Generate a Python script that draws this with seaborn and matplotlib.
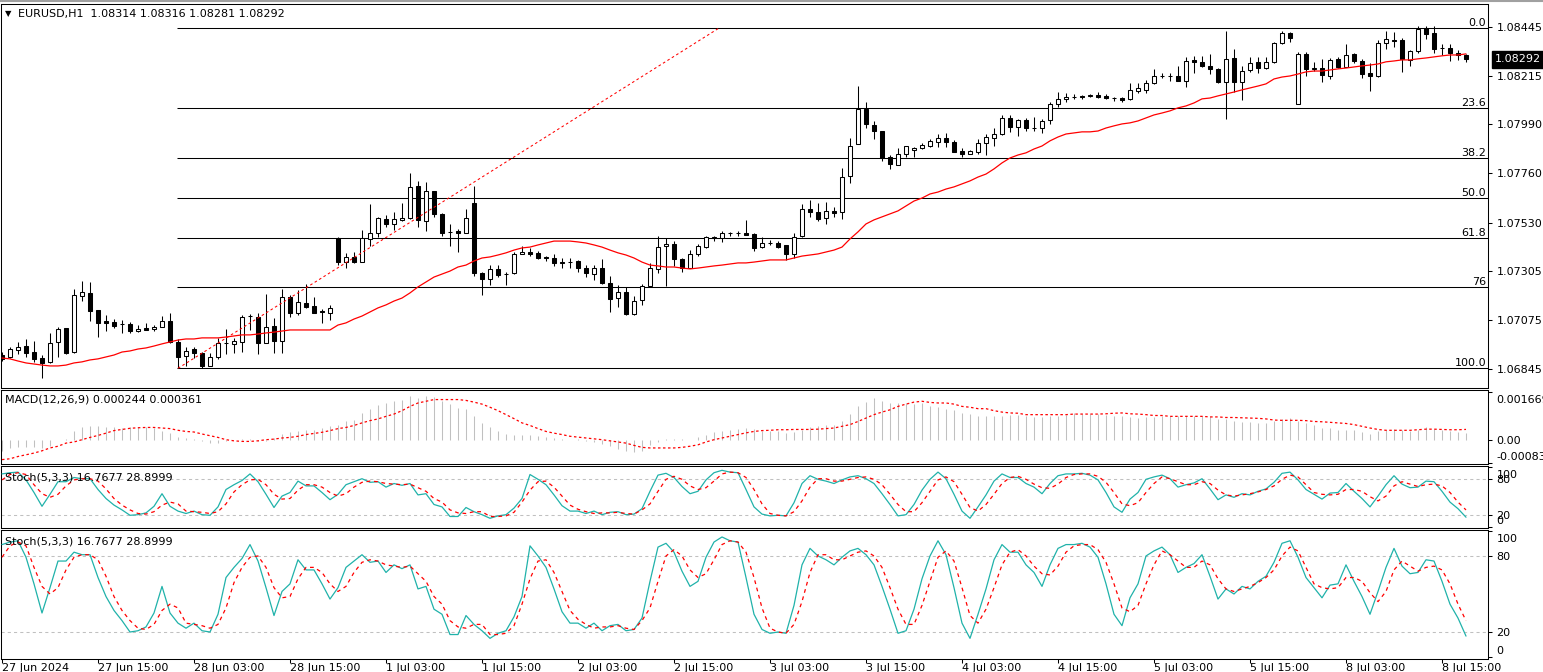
import numpy as np
import matplotlib
matplotlib.use("Agg")
import matplotlib.pyplot as plt
import seaborn as sns
from matplotlib.transforms import ScaledTranslation, blended_transform_factory
from matplotlib.lines import Line2D

# ---------------- data (EURUSD H1) ----------------
open_ = [1.06912, 1.06903, 1.06936, 1.06954, 1.06926, 1.06898, 1.06880, 1.06973, 1.07038, 1.06926,
         1.07188, 1.07202, 1.07122, 1.07071, 1.07066, 1.07058, 1.07057, 1.07024, 1.07038, 1.07034,
         1.07043, 1.07071, 1.06973, 1.06908, 1.06940, 1.06922, 1.06861, 1.06903, 1.06966, 1.06964,
         1.06973, 1.07092, 1.07090, 1.06968, 1.07048, 1.06978, 1.07183, 1.07108, 1.07155, 1.07141,
         1.07118, 1.07108, 1.07459, 1.07346, 1.07370, 1.07346, 1.07454, 1.07482, 1.07547, 1.07524,
         1.07543, 1.07552, 1.07701, 1.07538, 1.07678, 1.07571, 1.07486, 1.07491, 1.07482, 1.07622,
         1.07295, 1.07267, 1.07314, 1.07292, 1.07295, 1.07384, 1.07393, 1.07389, 1.07368, 1.07365,
         1.07344, 1.07344, 1.07351, 1.07318, 1.07290, 1.07318, 1.07248, 1.07178, 1.07206, 1.07104,
         1.07169, 1.07234, 1.07314, 1.07421, 1.07430, 1.07360, 1.07318, 1.07384, 1.07416, 1.07458,
         1.07459, 1.07482, 1.07484, 1.07484, 1.07477, 1.07416, 1.07435, 1.07435, 1.07426, 1.07384,
         1.07468, 1.07594, 1.07580, 1.07552, 1.07585, 1.07580, 1.07748, 1.07898, 1.08061, 1.07986,
         1.07958, 1.07837, 1.07799, 1.07851, 1.07870, 1.07879, 1.07888, 1.07907, 1.07926, 1.07907,
         1.07865, 1.07851, 1.07860, 1.07902, 1.07926, 1.07944, 1.08019, 1.07977, 1.08010, 1.07970,
         1.07972, 1.08010, 1.08084, 1.08108, 1.08115, 1.08122, 1.08120, 1.08126, 1.08122, 1.08110,
         1.08112, 1.08108, 1.08145, 1.08150, 1.08182, 1.08213, 1.08215, 1.08215, 1.08192, 1.08290,
         1.08281, 1.08262, 1.08248, 1.08187, 1.08299, 1.08187, 1.08243, 1.08281, 1.08252, 1.08281,
         1.08369, 1.08416, 1.08084, 1.08318, 1.08248, 1.08252, 1.08215, 1.08295, 1.08257, 1.08318,
         1.08285, 1.08229, 1.08215, 1.08369, 1.08381, 1.08383, 1.08290, 1.08332, 1.08439, 1.08416,
         1.08344, 1.08346, 1.08321, 1.08314]
high = [1.06926, 1.06950, 1.06973, 1.06987, 1.06978, 1.06912, 1.07015, 1.07043, 1.07040, 1.07220,
        1.07258, 1.07253, 1.07124, 1.07099, 1.07080, 1.07076, 1.07066, 1.07052, 1.07062, 1.07052,
        1.07094, 1.07108, 1.06987, 1.06950, 1.06950, 1.06924, 1.06922, 1.06992, 1.07034, 1.06992,
        1.07099, 1.07104, 1.07108, 1.07197, 1.07085, 1.07220, 1.07192, 1.07216, 1.07244, 1.07183,
        1.07127, 1.07146, 1.07462, 1.07389, 1.07393, 1.07496, 1.07617, 1.07555, 1.07566, 1.07580,
        1.07622, 1.07762, 1.07725, 1.07720, 1.07680, 1.07573, 1.07524, 1.07501, 1.07594, 1.07701,
        1.07300, 1.07332, 1.07332, 1.07300, 1.07393, 1.07421, 1.07412, 1.07398, 1.07374, 1.07384,
        1.07365, 1.07365, 1.07356, 1.07332, 1.07332, 1.07360, 1.07281, 1.07239, 1.07230, 1.07188,
        1.07244, 1.07341, 1.07468, 1.07459, 1.07444, 1.07365, 1.07402, 1.07430, 1.07468, 1.07468,
        1.07491, 1.07487, 1.07489, 1.07543, 1.07480, 1.07464, 1.07449, 1.07444, 1.07428, 1.07482,
        1.07617, 1.07636, 1.07622, 1.07627, 1.07603, 1.07785, 1.07926, 1.08168, 1.08094, 1.08005,
        1.07960, 1.07846, 1.07879, 1.07890, 1.07884, 1.07902, 1.07921, 1.07944, 1.07949, 1.07916,
        1.07879, 1.07870, 1.07921, 1.07944, 1.07972, 1.08033, 1.08033, 1.08014, 1.08019, 1.08023,
        1.08014, 1.08094, 1.08140, 1.08136, 1.08131, 1.08126, 1.08131, 1.08140, 1.08131, 1.08117,
        1.08117, 1.08182, 1.08182, 1.08196, 1.08248, 1.08229, 1.08229, 1.08262, 1.08304, 1.08309,
        1.08309, 1.08318, 1.08252, 1.08425, 1.08341, 1.08262, 1.08304, 1.08304, 1.08304, 1.08374,
        1.08425, 1.08418, 1.08327, 1.08327, 1.08281, 1.08295, 1.08299, 1.08304, 1.08365, 1.08323,
        1.08295, 1.08276, 1.08383, 1.08425, 1.08421, 1.08393, 1.08337, 1.08449, 1.08449, 1.08449,
        1.08365, 1.08365, 1.08337, 1.08316]
low = [1.06884, 1.06898, 1.06917, 1.06903, 1.06880, 1.06805, 1.06875, 1.06903, 1.06918, 1.06922,
       1.07164, 1.07071, 1.06996, 1.07024, 1.07038, 1.07015, 1.07015, 1.07019, 1.07027, 1.07024,
       1.07041, 1.06968, 1.06850, 1.06861, 1.06898, 1.06852, 1.06859, 1.06894, 1.06917, 1.06922,
       1.06926, 1.07029, 1.06917, 1.06966, 1.06922, 1.06922, 1.07090, 1.07099, 1.07132, 1.07106,
       1.07062, 1.07076, 1.07332, 1.07318, 1.07341, 1.07344, 1.07421, 1.07464, 1.07510, 1.07496,
       1.07538, 1.07547, 1.07510, 1.07491, 1.07557, 1.07468, 1.07421, 1.07393, 1.07480, 1.07281,
       1.07192, 1.07239, 1.07276, 1.07239, 1.07290, 1.07382, 1.07374, 1.07360, 1.07351, 1.07328,
       1.07318, 1.07318, 1.07300, 1.07276, 1.07262, 1.07244, 1.07113, 1.07136, 1.07099, 1.07099,
       1.07146, 1.07232, 1.07295, 1.07234, 1.07328, 1.07300, 1.07316, 1.07374, 1.07412, 1.07444,
       1.07440, 1.07468, 1.07468, 1.07471, 1.07398, 1.07414, 1.07426, 1.07412, 1.07356, 1.07365,
       1.07464, 1.07557, 1.07538, 1.07524, 1.07557, 1.07547, 1.07715, 1.07895, 1.07972, 1.07921,
       1.07818, 1.07781, 1.07797, 1.07837, 1.07837, 1.07874, 1.07884, 1.07884, 1.07884, 1.07858,
       1.07837, 1.07849, 1.07851, 1.07846, 1.07888, 1.07940, 1.07954, 1.07935, 1.07958, 1.07958,
       1.07949, 1.07991, 1.08070, 1.08094, 1.08108, 1.08108, 1.08118, 1.08112, 1.08108, 1.08098,
       1.08094, 1.08103, 1.08136, 1.08136, 1.08178, 1.08206, 1.08192, 1.08190, 1.08164, 1.08229,
       1.08257, 1.08224, 1.08182, 1.08014, 1.08140, 1.08103, 1.08234, 1.08229, 1.08248, 1.08276,
       1.08365, 1.08374, 1.08082, 1.08215, 1.08238, 1.08187, 1.08201, 1.08252, 1.08255, 1.08276,
       1.08206, 1.08145, 1.08210, 1.08341, 1.08351, 1.08234, 1.08262, 1.08323, 1.08388, 1.08323,
       1.08313, 1.08285, 1.08290, 1.08281]
close = [1.06894, 1.06940, 1.06950, 1.06922, 1.06894, 1.06875, 1.06968, 1.07034, 1.06922, 1.07192,
         1.07206, 1.07118, 1.07062, 1.07062, 1.07048, 1.07056, 1.07024, 1.07034, 1.07029, 1.07043,
         1.07071, 1.06973, 1.06903, 1.06931, 1.06922, 1.06861, 1.06903, 1.06968, 1.06968, 1.06978,
         1.07090, 1.07094, 1.06968, 1.07043, 1.06978, 1.07183, 1.07108, 1.07160, 1.07136, 1.07108,
         1.07113, 1.07132, 1.07346, 1.07370, 1.07346, 1.07459, 1.07482, 1.07552, 1.07524, 1.07547,
         1.07552, 1.07697, 1.07543, 1.07678, 1.07571, 1.07482, 1.07488, 1.07482, 1.07552, 1.07295,
         1.07267, 1.07314, 1.07286, 1.07290, 1.07384, 1.07393, 1.07384, 1.07365, 1.07365, 1.07341,
         1.07341, 1.07346, 1.07318, 1.07295, 1.07318, 1.07248, 1.07174, 1.07206, 1.07104, 1.07164,
         1.07234, 1.07318, 1.07416, 1.07430, 1.07360, 1.07318, 1.07384, 1.07421, 1.07464, 1.07461,
         1.07482, 1.07484, 1.07482, 1.07473, 1.07412, 1.07435, 1.07437, 1.07416, 1.07384, 1.07464,
         1.07594, 1.07580, 1.07547, 1.07585, 1.07576, 1.07743, 1.07888, 1.08061, 1.07991, 1.07958,
         1.07832, 1.07804, 1.07851, 1.07888, 1.07879, 1.07893, 1.07912, 1.07926, 1.07907, 1.07860,
         1.07851, 1.07865, 1.07902, 1.07930, 1.07944, 1.08019, 1.07977, 1.08010, 1.07972, 1.07972,
         1.08005, 1.08084, 1.08108, 1.08117, 1.08117, 1.08117, 1.08126, 1.08117, 1.08112, 1.08112,
         1.08103, 1.08150, 1.08159, 1.08182, 1.08215, 1.08215, 1.08213, 1.08192, 1.08285, 1.08281,
         1.08262, 1.08248, 1.08187, 1.08295, 1.08187, 1.08238, 1.08276, 1.08252, 1.08281, 1.08369,
         1.08416, 1.08393, 1.08318, 1.08248, 1.08252, 1.08220, 1.08290, 1.08257, 1.08313, 1.08285,
         1.08224, 1.08215, 1.08369, 1.08388, 1.08379, 1.08295, 1.08332, 1.08435, 1.08411, 1.08341,
         1.08346, 1.08323, 1.08314, 1.08292]
ma_line = [1.06898, 1.06894, 1.06884, 1.06875, 1.06870, 1.06865, 1.06861, 1.06861, 1.06865, 1.06875,
           1.06880, 1.06889, 1.06894, 1.06903, 1.06912, 1.06926, 1.06931, 1.06940, 1.06945, 1.06954,
           1.06964, 1.06973, 1.06982, 1.06987, 1.06987, 1.06992, 1.06992, 1.06992, 1.06996, 1.07001,
           1.07006, 1.07006, 1.07010, 1.07015, 1.07019, 1.07024, 1.07029, 1.07029, 1.07029, 1.07029,
           1.07029, 1.07029, 1.07052, 1.07062, 1.07080, 1.07094, 1.07113, 1.07132, 1.07146, 1.07164,
           1.07178, 1.07202, 1.07230, 1.07253, 1.07276, 1.07290, 1.07304, 1.07323, 1.07332, 1.07351,
           1.07365, 1.07370, 1.07379, 1.07389, 1.07402, 1.07412, 1.07416, 1.07426, 1.07435, 1.07444,
           1.07444, 1.07444, 1.07440, 1.07435, 1.07426, 1.07416, 1.07402, 1.07389, 1.07379, 1.07365,
           1.07346, 1.07332, 1.07328, 1.07323, 1.07323, 1.07318, 1.07314, 1.07318, 1.07323, 1.07328,
           1.07332, 1.07337, 1.07342, 1.07342, 1.07346, 1.07351, 1.07356, 1.07356, 1.07356, 1.07365,
           1.07374, 1.07379, 1.07384, 1.07393, 1.07402, 1.07416, 1.07454, 1.07487, 1.07524, 1.07543,
           1.07557, 1.07571, 1.07585, 1.07608, 1.07631, 1.07645, 1.07664, 1.07673, 1.07687, 1.07697,
           1.07711, 1.07725, 1.07743, 1.07757, 1.07781, 1.07809, 1.07832, 1.07846, 1.07856, 1.07874,
           1.07888, 1.07912, 1.07930, 1.07944, 1.07949, 1.07954, 1.07954, 1.07958, 1.07972, 1.07982,
           1.07991, 1.07996, 1.08005, 1.08019, 1.08033, 1.08042, 1.08052, 1.08066, 1.08075, 1.08089,
           1.08108, 1.08112, 1.08122, 1.08131, 1.08140, 1.08150, 1.08159, 1.08168, 1.08178, 1.08201,
           1.08210, 1.08215, 1.08224, 1.08234, 1.08238, 1.08238, 1.08243, 1.08248, 1.08252, 1.08257,
           1.08262, 1.08266, 1.08271, 1.08281, 1.08285, 1.08290, 1.08290, 1.08295, 1.08299, 1.08304,
           1.08309, 1.08313, 1.08313, 1.08318]
macd_main = [-0.00041, -0.00028, -0.00026, -0.00025, -0.00026, -0.00028, -0.00023, -0.00002, 0.00002, 0.00029,
             0.00043, 0.00047, 0.00047, 0.00043, 0.00043, 0.00041, 0.00043, 0.00043, 0.00043, 0.00041,
             0.00032, 0.00023, 0.00008, 0.00006, 0.00003, -0.00005, -0.00010, -0.00012, -0.00006, -0.00002,
             0.00002, 0.00003, -0.00003, -0.00005, 0.00005, 0.00020, 0.00027, 0.00032, 0.00035, 0.00035,
             0.00041, 0.00047, 0.00053, 0.00067, 0.00070, 0.00094, 0.00108, 0.00123, 0.00129, 0.00135,
             0.00139, 0.00152, 0.00146, 0.00152, 0.00149, 0.00137, 0.00125, 0.00111, 0.00108, 0.00082,
             0.00059, 0.00043, 0.00032, 0.00020, 0.00017, 0.00017, 0.00017, 0.00014, 0.00008, 0.00006,
             0.00002, 0.00000, 0.00003, -0.00003, -0.00008, -0.00014, -0.00023, -0.00033, -0.00041, -0.00044,
             -0.00039, -0.00020, -0.00008, 0.00003, 0.00002, 0.00002, 0.00000, 0.00009, 0.00017, 0.00026,
             0.00032, 0.00035, 0.00039, 0.00041, 0.00037, 0.00032, 0.00032, 0.00029, 0.00023, 0.00027,
             0.00035, 0.00043, 0.00047, 0.00050, 0.00053, 0.00067, 0.00090, 0.00120, 0.00133, 0.00145,
             0.00137, 0.00129, 0.00129, 0.00129, 0.00125, 0.00129, 0.00117, 0.00115, 0.00109, 0.00103,
             0.00094, 0.00090, 0.00085, 0.00082, 0.00082, 0.00085, 0.00088, 0.00088, 0.00082, 0.00078,
             0.00078, 0.00082, 0.00085, 0.00088, 0.00094, 0.00090, 0.00090, 0.00090, 0.00088, 0.00082,
             0.00082, 0.00078, 0.00076, 0.00080, 0.00080, 0.00084, 0.00082, 0.00082, 0.00082, 0.00082,
             0.00082, 0.00082, 0.00073, 0.00073, 0.00067, 0.00062, 0.00062, 0.00059, 0.00059, 0.00067,
             0.00073, 0.00076, 0.00067, 0.00059, 0.00050, 0.00041, 0.00041, 0.00035, 0.00035, 0.00035,
             0.00027, 0.00020, 0.00029, 0.00035, 0.00039, 0.00033, 0.00032, 0.00035, 0.00043, 0.00039,
             0.00035, 0.00032, 0.00027, 0.000244]
macd_signal = [-0.00070, -0.00067, -0.00059, -0.00053, -0.00047, -0.00039, -0.00029, -0.00023, -0.00012, -0.00008,
               0.00000, 0.00008, 0.00015, 0.00023, 0.00032, 0.00036, 0.00040, 0.00042, 0.00043, 0.00043,
               0.00041, 0.00039, 0.00033, 0.00029, 0.00027, 0.00020, 0.00014, 0.00008, 0.00000, -0.00004,
               -0.00006, -0.00006, -0.00004, 0.00000, 0.00002, 0.00006, 0.00008, 0.00012, 0.00018, 0.00022,
               0.00026, 0.00032, 0.00039, 0.00043, 0.00050, 0.00059, 0.00067, 0.00073, 0.00082, 0.00090,
               0.00102, 0.00117, 0.00129, 0.00135, 0.00141, 0.00141, 0.00141, 0.00141, 0.00138, 0.00132,
               0.00125, 0.00114, 0.00102, 0.00088, 0.00074, 0.00059, 0.00050, 0.00039, 0.00029, 0.00023,
               0.00018, 0.00012, 0.00009, 0.00006, 0.00003, 0.00000, -0.00004, -0.00008, -0.00012, -0.00020,
               -0.00027, -0.00029, -0.00029, -0.00029, -0.00029, -0.00027, -0.00023, -0.00018, -0.00008, 0.00000,
               0.00006, 0.00012, 0.00018, 0.00024, 0.00029, 0.00032, 0.00033, 0.00035, 0.00035, 0.00036,
               0.00036, 0.00036, 0.00037, 0.00039, 0.00041, 0.00047, 0.00053, 0.00064, 0.00076, 0.00088,
               0.00097, 0.00105, 0.00117, 0.00125, 0.00132, 0.00135, 0.00131, 0.00129, 0.00129, 0.00125,
               0.00117, 0.00114, 0.00109, 0.00109, 0.00102, 0.00097, 0.00094, 0.00093, 0.00088, 0.00088,
               0.00088, 0.00088, 0.00088, 0.00088, 0.00090, 0.00090, 0.00090, 0.00090, 0.00091, 0.00093,
               0.00094, 0.00091, 0.00090, 0.00088, 0.00085, 0.00085, 0.00082, 0.00082, 0.00082, 0.00082,
               0.00082, 0.00080, 0.00080, 0.00078, 0.00078, 0.00077, 0.00076, 0.00075, 0.00073, 0.00069,
               0.00068, 0.00068, 0.00068, 0.00067, 0.00064, 0.00063, 0.00061, 0.00059, 0.00057, 0.00053,
               0.00047, 0.00041, 0.00036, 0.00033, 0.00033, 0.00033, 0.00033, 0.00035, 0.00037, 0.00037,
               0.00036, 0.00035, 0.00035, 0.000361]
stoch_k = [89, 91, 92, 79, 58, 35, 55, 76, 76, 83,
           81, 81, 63, 48, 37, 29, 20, 21, 24, 35,
           56, 35, 27, 23, 27, 21, 20, 34, 63, 71,
           78, 89, 76, 55, 33, 52, 58, 77, 69, 69,
           58, 46, 55, 71, 76, 81, 75, 76, 67, 73,
           70, 73, 54, 56, 38, 34, 18, 18, 33, 26,
           21, 15, 19, 21, 32, 48, 88, 80, 71, 54,
           36, 27, 27, 23, 27, 21, 25, 26, 21, 22,
           31, 60, 87, 90, 83, 68, 56, 60, 79, 91,
           95, 92, 91, 63, 34, 22, 19, 20, 19, 41,
           73, 86, 80, 77, 73, 79, 84, 86, 81, 73,
           56, 38, 19, 21, 38, 62, 80, 92, 81, 55,
           27, 15, 34, 54, 77, 89, 83, 83, 73, 67,
           56, 73, 86, 89, 89, 90, 87, 79, 58, 34,
           25, 47, 58, 80, 84, 87, 81, 67, 71, 74,
           81, 64, 46, 54, 50, 56, 54, 60, 64, 75,
           90, 92, 79, 63, 55, 47, 57, 58, 73, 60,
           48, 34, 52, 71, 86, 72, 66, 67, 77, 76,
           60, 42, 31, 16.7677]
stoch_d = [79, 88, 91, 88, 71, 56, 50, 55, 69, 79,
           81, 81, 77, 64, 48, 37, 29, 23, 22, 26,
           37, 42, 39, 27, 26, 25, 23, 26, 39, 59,
           71, 79, 80, 71, 55, 47, 48, 62, 71, 71,
           67, 58, 52, 56, 67, 75, 77, 76, 73, 72,
           71, 72, 66, 60, 48, 42, 29, 24, 23, 26,
           26, 18, 18, 19, 25, 42, 62, 76, 77, 67,
           52, 37, 30, 26, 23, 24, 24, 25, 23, 22,
           29, 39, 60, 80, 85, 80, 69, 63, 66, 77,
           89, 92, 91, 83, 63, 39, 23, 20, 19, 26,
           44, 67, 81, 81, 77, 77, 80, 83, 84, 80,
           71, 55, 38, 26, 26, 41, 60, 79, 84, 76,
           55, 33, 27, 38, 55, 73, 83, 85, 80, 72,
           66, 65, 72, 83, 88, 89, 89, 85, 75, 58,
           39, 36, 41, 58, 73, 84, 81, 76, 71, 71,
           76, 73, 62, 54, 52, 54, 56, 59, 63, 69,
           80, 87, 84, 71, 58, 55, 54, 55, 63, 63,
           60, 51, 44, 52, 69, 76, 72, 68, 71, 72,
           69, 58, 42, 28.8999]

time_labels = ["27 Jun 2024", "27 Jun 15:00", "28 Jun 03:00", "28 Jun 15:00", "1 Jul 03:00",
               "1 Jul 15:00", "2 Jul 03:00", "2 Jul 15:00", "3 Jul 03:00", "3 Jul 15:00",
               "4 Jul 03:00", "4 Jul 15:00", "5 Jul 03:00", "5 Jul 15:00", "8 Jul 03:00",
               "8 Jul 15:00"]
time_label_bars = [0, 12, 24, 36, 48, 60, 72, 84, 96, 108, 120, 132, 144, 156, 168, 180]
price_ticks = [1.08445, 1.08215, 1.07990, 1.07760, 1.07530, 1.07305, 1.07075, 1.06845]
macd_ticks = [0.001669, 0.0, -0.00083]
macd_tick_labels = ["0.001669", "0.00", "-0.00083"]
stoch_ticks = [100, 80, 20, 0]
stoch_levels = [80, 20]
fib_levels = [0.0, 23.6, 38.2, 50.0, 61.8, 76.0, 100.0]
fib_labels = ["0.0", "23.6", "38.2", "50.0", "61.8", "76", "100.0"]
fib_high = 1.08438
fib_low = 1.06850
fib_start_bar = 22
trend_bars = [22, 89.6]
trend_prices = [1.06850, 1.08438]
symbol = "EURUSD,H1"

# ---------------- styling ----------------
sns.set_theme(style="white")
plt.rcParams['font.family'] = ['DejaVu Sans']
plt.rcParams['font.size'] = 8

W, H = 1543, 672
fig = plt.figure(figsize=(W / 100, H / 100), dpi=100)
fig.patch.set_facecolor('white')


def px_axes(x0, y0, x1, y1):
    return fig.add_axes([x0 / W, 1 - y1 / H, (x1 - x0) / W, (y1 - y0) / H])


ax_main = px_axes(1, 4, 1488, 388)
ax_macd = px_axes(1, 390, 1488, 464)
ax_st1 = px_axes(1, 466, 1488, 528)
ax_st2 = px_axes(1, 530, 1488, 659)
axes = [ax_main, ax_macd, ax_st1, ax_st2]

x = np.arange(len(close))
o = np.array(open_)
h = np.array(high)
l = np.array(low)
c = np.array(close)

LW = 0.75
# candles
ax_main.vlines(x, l, h, color='black', lw=LW, zorder=2)
bull = c >= o
bottom = np.minimum(o, c)
height = np.abs(c - o)
height = np.where(height < 2e-6, 2e-6, height)
ax_main.bar(x[bull], height[bull], bottom=bottom[bull], width=0.56, color='white',
            edgecolor='black', linewidth=LW, zorder=3)
ax_main.bar(x[~bull], height[~bull], bottom=bottom[~bull], width=0.56, color='black',
            edgecolor='black', linewidth=LW, zorder=3)
# moving average
sns.lineplot(x=x, y=np.array(ma_line), ax=ax_main, color='red', linewidth=0.9,
             estimator=None, errorbar=None, legend=False, zorder=4)
# fibo
fib_prices = fib_high - (fib_high - fib_low) * np.array(fib_levels) / 100.0
ax_main.hlines(fib_prices, fib_start_bar - 0.1, 185.75, color='black', lw=LW, zorder=1)
bt = blended_transform_factory(ax_main.transAxes, ax_main.transData)
for p, lab in zip(fib_prices, fib_labels):
    ax_main.text(1 - 2 / 1487, p, lab, transform=bt, ha='right', va='bottom',
                 fontsize=8, color='black', zorder=5)
ax_main.plot(trend_bars, trend_prices, color='red', lw=LW, ls=(0, (2.5, 2.5)), zorder=4)
ax_main.set_ylim(1.06758, 1.08551)
ax_main.set_yticks(price_ticks)
ax_main.set_yticklabels([f"{v:.5f}" for v in price_ticks])
# current price tag
ax_main.text(1.0, c[-1], f"{c[-1]:.5f}",
             transform=bt + ScaledTranslation(7 / 100, 0, fig.dpi_scale_trans),
             ha='left', va='center', color='white', fontsize=8, clip_on=False, zorder=10,
             bbox=dict(boxstyle='square,pad=0.3', fc='black', ec='black'))

# MACD
ax_macd.vlines(x, 0, np.array(macd_main), color='#C0C0C0', lw=LW, zorder=2)
sns.lineplot(x=x, y=np.array(macd_signal), ax=ax_macd, color='red', linewidth=0.9,
             linestyle=(0, (2, 2)), estimator=None, errorbar=None, legend=False, zorder=3)
ax_macd.set_ylim(-0.000854, 0.001746)
ax_macd.set_yticks(macd_ticks)
ax_macd.set_yticklabels(macd_tick_labels)
ax_macd.text(4 / 1487, 1 - 9 / 74, f"MACD(12,26,9) {macd_main[-1]:.6f} {macd_signal[-1]:.6f}",
             transform=ax_macd.transAxes, ha='left', va='center', fontsize=8, color='black')

# Stochastic panels
for ax, ylim, ty in [(ax_st1, (-1.2, 102.2), 1 - 11 / 62), (ax_st2, (-1.3, 100.5), 1 - 11 / 129)]:
    for lv in stoch_levels:
        ax.axhline(lv, color='#C0C0C0', lw=LW, ls=(0, (3, 3)), zorder=1)
    sns.lineplot(x=x, y=np.array(stoch_k, dtype=float), ax=ax, color='#20B2AA', linewidth=0.9,
                 estimator=None, errorbar=None, legend=False, zorder=3)
    sns.lineplot(x=x, y=np.array(stoch_d, dtype=float), ax=ax, color='red', linewidth=0.9,
                 linestyle=(0, (3, 3)), estimator=None, errorbar=None, legend=False, zorder=3)
    ax.set_ylim(*ylim)
    ax.set_yticks(stoch_ticks)
    ax.set_yticklabels([str(t) for t in stoch_ticks])
    ax.text(4 / 1487, ty, f"Stoch(5,3,3) {stoch_k[-1]:.4f} {stoch_d[-1]:.4f}",
            transform=ax.transAxes, ha='left', va='center', fontsize=8, color='black', zorder=5)

for ax in axes:
    ax.set_xlim(-0.125, 185.75)
    ax.set_xlabel('')
    ax.set_ylabel('')
    ax.set_facecolor('white')
    ax.grid(False)
    for s in ax.spines.values():
        s.set_visible(True)
        s.set_color('black')
        s.set_linewidth(LW)
    ax.yaxis.tick_right()
    ax.tick_params(axis='y', which='both', left=False, right=True, labelleft=False,
                   labelright=True, length=3, width=LW, pad=3, labelsize=8, colors='black')
    ax.tick_params(axis='x', which='both', bottom=False, top=False, labelbottom=False)

ax_st2.set_xticks(time_label_bars)
ax_st2.set_xticklabels(time_labels)
ax_st2.tick_params(axis='x', bottom=True, labelbottom=True, length=3, width=LW, pad=0,
                   labelsize=8, colors='black')
for lab in ax_st2.get_xticklabels():
    lab.set_horizontalalignment('left')

# MT4 pushes the extreme scale labels inside the sub-window
down = ScaledTranslation(0, -7 / 100, fig.dpi_scale_trans)
up = ScaledTranslation(0, 7 / 100, fig.dpi_scale_trans)
for ax in [ax_macd, ax_st1, ax_st2]:
    for lab in ax.get_yticklabels():
        t = lab.get_text()
        if t in ("100", "0.001669"):
            lab.set_transform(lab.get_transform() + down)
        elif t in ("0", "-0.00083"):
            lab.set_transform(lab.get_transform() + up)

# header
fig.text(5 / W, 1 - 14 / H, "\u25BC", fontsize=6, ha='left', va='center', color='black')
fig.text(18 / W, 1 - 14 / H,
         f"{symbol}  {o[-1]:.5f} {h[-1]:.5f} {l[-1]:.5f} {c[-1]:.5f}",
         fontsize=8, ha='left', va='center', color='black')
fig.add_artist(Line2D([0, 1], [1 - 0.8 / H, 1 - 0.8 / H], color='#A0A0A0', lw=1.5))

fig.savefig("out.png", dpi=100, facecolor='white')
